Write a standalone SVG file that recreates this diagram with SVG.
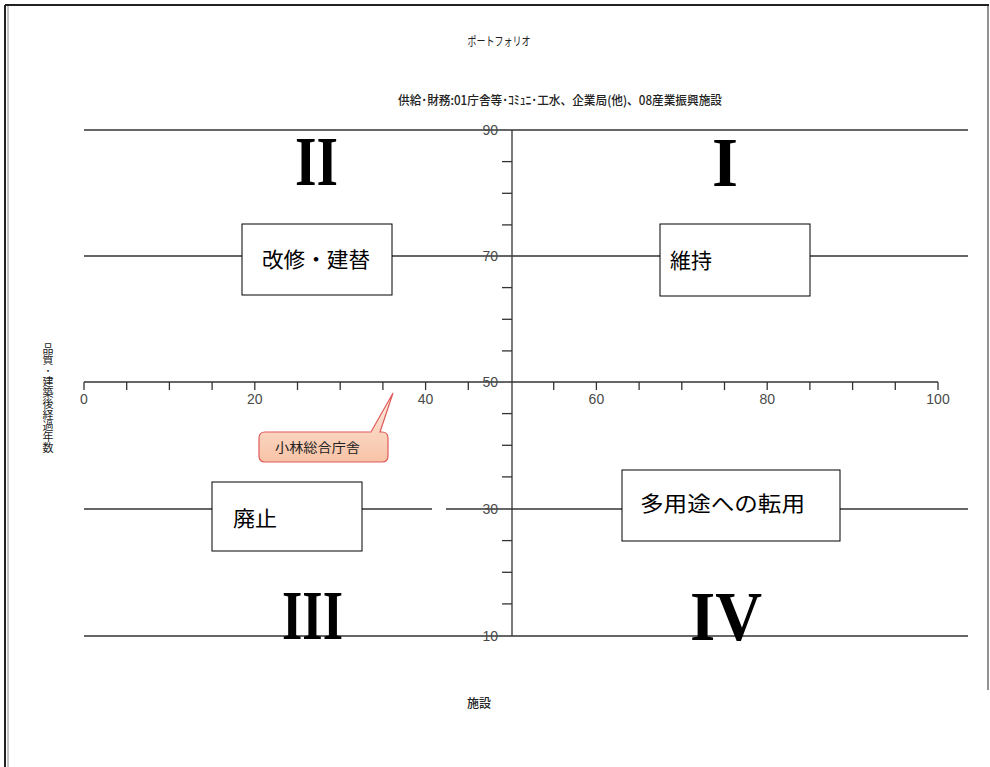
<svg xmlns="http://www.w3.org/2000/svg" width="990" height="767" viewBox="0 0 990 767">
<style>
.frame{stroke:#222;stroke-width:2;fill:none}
.grid{stroke:#333;stroke-width:1.3;fill:none}
.tick{stroke:#333;stroke-width:1.3}
.lbl{font-family:"Liberation Sans",Arial,sans-serif;font-size:14px;fill:#4a4a4a}
.jp{font-family:"Noto Sans CJK JP","Noto Sans",sans-serif;fill:#222}
.box rect{fill:#fff;stroke:#000;stroke-width:1}
.box text{font-family:"Noto Sans CJK JP",sans-serif;font-size:21px;fill:#000}
.roman{font-family:"Liberation Serif","Times New Roman",serif;font-weight:bold;font-size:70px;fill:#000}
</style>
<defs>
<linearGradient id="cg" x1="0" y1="0" x2="0" y2="1">
<stop offset="0" stop-color="#fdebe0"/>
<stop offset="1" stop-color="#f8c3a6"/>
</linearGradient>
</defs>
<rect width="990" height="767" fill="#fff"/>
<g id="frame">
<line class="frame" x1="5" y1="5" x2="989" y2="5"/>
<line class="frame" x1="5" y1="5" x2="5" y2="767"/>
<line class="frame" x1="8" y1="6" x2="8" y2="767" style="stroke-width:1;stroke:#888"/>
<line class="frame" x1="988" y1="5" x2="988" y2="690" style="stroke-width:1"/>
</g>
<g id="titles">
<text class="jp" x="499" y="46" font-size="12" text-anchor="middle" textLength="63" lengthAdjust="spacingAndGlyphs">ポートフォリオ</text>
<text class="jp" x="560" y="105" font-size="12.5" font-weight="500" text-anchor="middle" textLength="324" lengthAdjust="spacingAndGlyphs">供給･財務:01庁舎等･ｺﾐｭﾆ･工水、企業局(他)、08産業振興施設</text>
<text class="jp" x="479" y="708" font-size="12" font-weight="500" text-anchor="middle">施設</text>
<text class="jp" x="48" y="343" font-size="11" style="writing-mode:vertical-rl;text-orientation:upright">品質･建築後経過年数</text>
</g>
<g id="connectors">
<line class="grid" x1="84" y1="130" x2="968" y2="130"/>
<line class="grid" x1="84" y1="256" x2="968" y2="256"/>
<line class="grid" x1="84" y1="509" x2="432" y2="509"/>
<line class="grid" x1="446" y1="509" x2="968" y2="509"/>
<line class="grid" x1="84" y1="636" x2="968" y2="636"/>
<line class="grid" x1="84" y1="382" x2="938" y2="382"/>
<line class="grid" x1="512" y1="130" x2="512" y2="636"/>
<g id="xticks">
<line class="tick" x1="84" y1="382" x2="84" y2="390"/>
<line class="tick" x1="126.7" y1="382" x2="126.7" y2="390"/>
<line class="tick" x1="169.4" y1="382" x2="169.4" y2="390"/>
<line class="tick" x1="212.1" y1="382" x2="212.1" y2="390"/>
<line class="tick" x1="254.8" y1="382" x2="254.8" y2="390"/>
<line class="tick" x1="297.5" y1="382" x2="297.5" y2="390"/>
<line class="tick" x1="340.2" y1="382" x2="340.2" y2="390"/>
<line class="tick" x1="382.9" y1="382" x2="382.9" y2="390"/>
<line class="tick" x1="425.6" y1="382" x2="425.6" y2="390"/>
<line class="tick" x1="468.3" y1="382" x2="468.3" y2="390"/>
<line class="tick" x1="553.7" y1="382" x2="553.7" y2="390"/>
<line class="tick" x1="596.4" y1="382" x2="596.4" y2="390"/>
<line class="tick" x1="639.1" y1="382" x2="639.1" y2="390"/>
<line class="tick" x1="681.8" y1="382" x2="681.8" y2="390"/>
<line class="tick" x1="724.5" y1="382" x2="724.5" y2="390"/>
<line class="tick" x1="767.2" y1="382" x2="767.2" y2="390"/>
<line class="tick" x1="809.9" y1="382" x2="809.9" y2="390"/>
<line class="tick" x1="852.6" y1="382" x2="852.6" y2="390"/>
<line class="tick" x1="895.3" y1="382" x2="895.3" y2="390"/>
<line class="tick" x1="938" y1="382" x2="938" y2="390"/>
</g>
<g id="yticks">
<line class="tick" x1="502" y1="161.6" x2="512" y2="161.6"/>
<line class="tick" x1="502" y1="193.3" x2="512" y2="193.3"/>
<line class="tick" x1="502" y1="224.9" x2="512" y2="224.9"/>
<line class="tick" x1="502" y1="287.6" x2="512" y2="287.6"/>
<line class="tick" x1="502" y1="319.3" x2="512" y2="319.3"/>
<line class="tick" x1="502" y1="350.9" x2="512" y2="350.9"/>
<line class="tick" x1="502" y1="413.6" x2="512" y2="413.6"/>
<line class="tick" x1="502" y1="445.3" x2="512" y2="445.3"/>
<line class="tick" x1="502" y1="476.9" x2="512" y2="476.9"/>
<line class="tick" x1="502" y1="540.6" x2="512" y2="540.6"/>
<line class="tick" x1="502" y1="572.3" x2="512" y2="572.3"/>
<line class="tick" x1="502" y1="603.9" x2="512" y2="603.9"/>
</g>
</g>
<g id="axis-labels" class="lbl">
<text x="84" y="404" text-anchor="middle">0</text>
<text x="254.8" y="404" text-anchor="middle">20</text>
<text x="425.6" y="404" text-anchor="middle">40</text>
<text x="596.4" y="404" text-anchor="middle">60</text>
<text x="767.2" y="404" text-anchor="middle">80</text>
<text x="938" y="404" text-anchor="middle">100</text>
<text x="498" y="135" text-anchor="end">90</text>
<text x="498" y="261" text-anchor="end">70</text>
<text x="498" y="387" text-anchor="end">50</text>
<text x="498" y="514" text-anchor="end">30</text>
<text x="498" y="641" text-anchor="end">10</text>
</g>
<g id="roman">
<text class="roman" x="295" y="185" textLength="43" lengthAdjust="spacingAndGlyphs">II</text>
<text class="roman" x="712" y="186" textLength="26" lengthAdjust="spacingAndGlyphs">I</text>
<text class="roman" x="282" y="639" textLength="61" lengthAdjust="spacingAndGlyphs">III</text>
<text class="roman" x="690" y="640" textLength="72" lengthAdjust="spacingAndGlyphs">IV</text>
</g>
<g id="node-kaishu" class="box">
<rect x="242" y="224" width="150" height="71"/>
<text x="262" y="267" textLength="108" lengthAdjust="spacingAndGlyphs">改修・建替</text>
</g>
<g id="node-iji" class="box">
<rect x="660" y="224" width="150" height="72"/>
<text x="670" y="268" textLength="42" lengthAdjust="spacingAndGlyphs">維持</text>
</g>
<g id="node-haishi" class="box">
<rect x="212" y="482" width="150" height="69"/>
<text x="233" y="526" textLength="44" lengthAdjust="spacingAndGlyphs">廃止</text>
</g>
<g id="node-tenyo" class="box">
<rect x="622" y="470" width="218" height="71"/>
<text x="640" y="511" textLength="165" lengthAdjust="spacingAndGlyphs">多用途への転用</text>
</g>
<g id="node-callout">
<path d="M265,432 H371 L393,393 L380,432 H382 Q388,432 388,438 V456 Q388,462 382,462 H265 Q259,462 259,456 V438 Q259,432 265,432 Z" fill="url(#cg)" stroke="#e05a5a" stroke-width="1.2"/>
<text class="jp" x="275" y="452" font-size="13" textLength="85" lengthAdjust="spacingAndGlyphs">小林総合庁舎</text>
</g>
</svg>
